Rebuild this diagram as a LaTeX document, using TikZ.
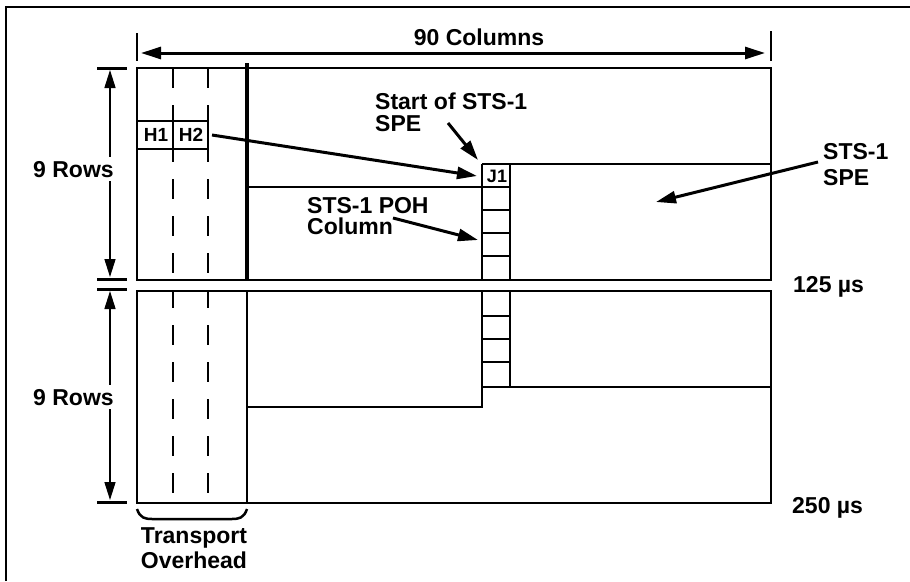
\documentclass[tikz,border=0pt]{standalone}
\usepackage{fontspec}
\setmainfont{Liberation Sans}
\usetikzlibrary{arrows.meta}
\begin{document}
\begin{tikzpicture}[x=1pt,y=-1pt,
  lbl/.style={font=\fontsize{23}{25}\selectfont\bfseries, inner sep=0pt, align=left},
  hlbl/.style={font=\fontsize{19}{20}\selectfont\bfseries, inner sep=0pt},
  framebox/.style={line width=2pt},
  thinline/.style={line width=1.5pt},
  bigarrow/.style={line width=3pt, -{Triangle[length=20pt,width=12pt]}},
  dimarrow/.style={line width=1.5pt, -{Triangle[length=18pt,width=11pt]}, shorten <=4pt},
  dimbar/.style={line width=3pt},
  tick/.style={line width=1.5pt},
  dashline/.style={line width=2pt, dash pattern=on 20pt off 17pt}]
\useasboundingbox (0,0) rectangle (910,581);
% outer border (top and left)
\draw[line width=2pt] (6,581) -- (6,7) -- (910,7);

% frames
\draw[framebox] (137,68) rectangle (771,280);
\draw[framebox] (137,291) rectangle (771,503);
\draw[line width=3.5pt] (247,63) -- (247,280);
\draw[framebox] (247,291) -- (247,503);

% dashed overhead columns
\draw[dashline] (173,68) -- (173,280);
\draw[dashline] (208,68) -- (208,280);
\draw[dashline, dash phase=3pt] (173,291) -- (173,503);
\draw[dashline, dash phase=3pt] (208,291) -- (208,503);

% H1 H2 row
\draw[thinline] (137,121) -- (208,121);
\draw[thinline] (137,149) -- (208,149);
\draw[thinline] (173,121) -- (173,149);
\draw[thinline] (208,121) -- (208,149);
\node[hlbl] (h1) at (156,135) {H1};
\node[hlbl] (h2) at (191,135) {H2};

% upper SPE outline
\draw[framebox] (247,187) -- (482,187);
\draw[framebox] (482,164) -- (482,280);
\draw[framebox] (482,164) -- (771,164);
\draw[framebox] (510,164) -- (510,280);
\foreach \yy in {187,210,233,256} \draw[thinline] (482,\yy) -- (510,\yy);
\node[hlbl, font=\fontsize{18}{18}\selectfont\bfseries] (j1) at (497,176) {J1};

% lower SPE outline
\draw[framebox] (247,407) -- (482,407) -- (482,291);
\draw[framebox] (510,291) -- (510,387);
\draw[framebox] (482,387) -- (771,387);
\foreach \yy in {316,339,362} \draw[thinline] (482,\yy) -- (510,\yy);

% top dimension
\draw[tick] (137,33) -- (137,61);
\draw[tick] (771,31) -- (771,61);
\node[lbl, anchor=base] (cols) at (479,45) {90 Columns};
\coordinate (cl) at (141,53);
\coordinate (cr) at (765,53);
\draw[line width=3pt, {Triangle[length=20pt,width=12pt]}-{Triangle[length=20pt,width=12pt]}] (cl) -- (cr);

% left dimensions
\draw[dimbar] (97,68) -- (127,68);
\draw[dimbar] (97,279) -- (127,279);
\draw[dimbar] (97,289) -- (127,289);
\draw[dimbar] (97,502) -- (127,502);
\node[lbl, anchor=base west] (rows1) at (33,177) {9 Rows};
\node[lbl, anchor=base west] (rows2) at (33,405) {9 Rows};
\coordinate (r1t) at (110,70);
\coordinate (r1b) at (110,277);
\coordinate (r2t) at (110,291);
\coordinate (r2b) at (110,500);
\draw[dimarrow] (rows1.north -| r1t) -- (r1t);
\draw[dimarrow] (rows1.south -| r1b) -- (r1b);
\draw[dimarrow] (rows2.north -| r2t) -- (r2t);
\draw[dimarrow] (rows2.south -| r2b) -- (r2b);

% time labels
\node[lbl, anchor=base west] (t125) at (793,292) {125 µs};
\node[lbl, anchor=base west] (t250) at (792,513) {250 µs};

% transport overhead brace
\draw[line width=2.5pt] (137,509) .. controls (140,518) and (145,519) .. (152,519) -- (232,519) .. controls (239,519) and (244,518) .. (247,509);
\node[lbl, align=center, anchor=north] (toh) at (194,527) {Transport\\Overhead};

% callout labels
\node[lbl, anchor=north west, font=\fontsize{23}{22}\selectfont\bfseries] (start) at (375,93) {Start of STS-1\\SPE};
\node[lbl, anchor=north west, font=\fontsize{23}{21}\selectfont\bfseries] (poh) at (307,197) {STS-1 POH\\Column};
\node[lbl, anchor=north west, font=\fontsize{23}{26}\selectfont\bfseries] (spe) at (823,143) {STS-1\\SPE};

% callout arrows
\coordinate (h2end) at (212,135);
\coordinate (j1tip) at (477,176);
\coordinate (starts) at (448,123);
\coordinate (startt) at (478,160);
\coordinate (pohs) at (393,218);
\coordinate (poht) at (478,240);
\coordinate (spes) at (818,162);
\coordinate (spet) at (656,202);
\draw[bigarrow] (h2end) -- (j1tip);
\draw[bigarrow] (starts) -- (startt);
\draw[bigarrow] (pohs) -- (poht);
\draw[bigarrow] (spes) -- (spet);
\end{tikzpicture}
\end{document}
